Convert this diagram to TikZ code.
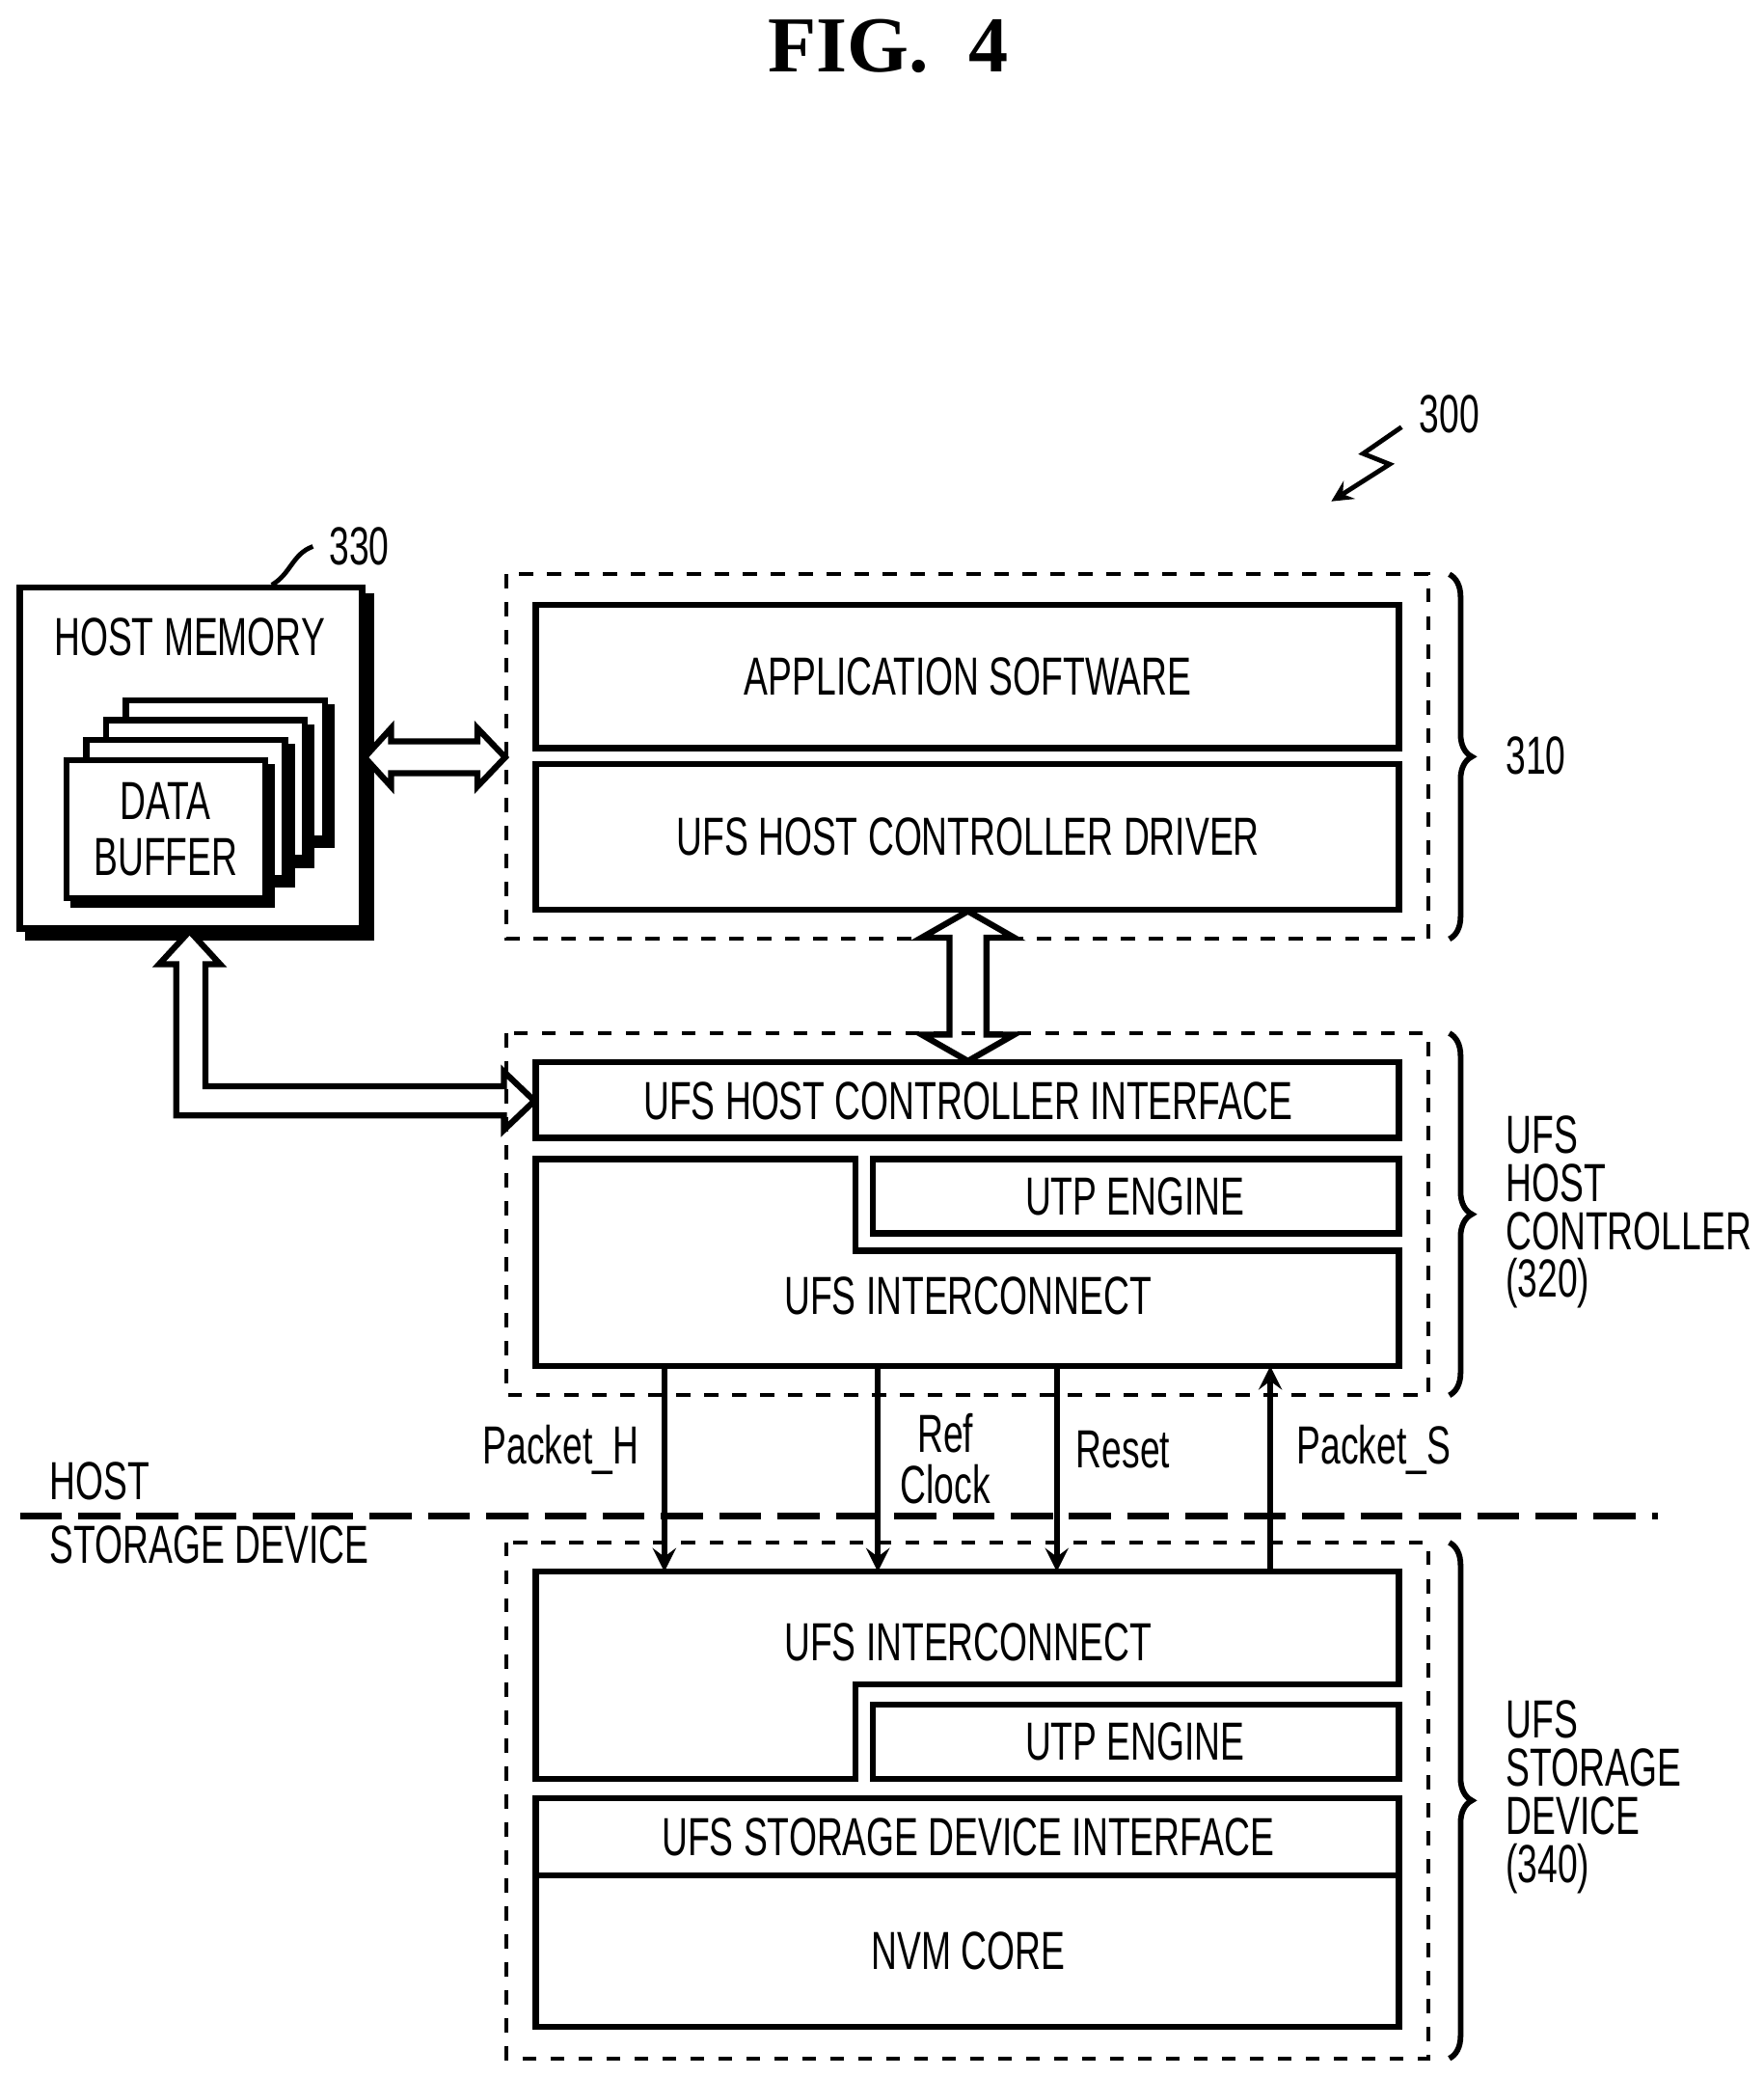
\documentclass[tikz,border=0pt]{standalone}
\usepackage{fontspec}
\setmainfont[FakeStretch=0.67]{Liberation Sans}
\newfontfamily\figfont{Liberation Serif}
\usetikzlibrary{positioning, decorations.pathreplacing}
\tikzset{
  blk/.style={draw, line width=1.3pt, inner sep=0pt},
  grp/.style={draw, dashed, line width=0.8pt},
  lbl/.style={font=\fontsize{11.5}{14}\selectfont, align=center},
  side/.style={font=\fontsize{11.5}{10.3}\selectfont, align=left, anchor=west, inner sep=0pt},
  brc/.style={decorate, decoration={brace, amplitude=0.17cm}, line width=1.2pt},
  hollow/.style={draw, line width=1.3pt, fill=white, line join=miter},
  sig/.style={-stealth, line width=1.2pt}
}
\begin{document}
\begin{tikzpicture}[x=0.01cm, y=-0.01cm]
\useasboundingbox (0,0) rectangle (1330,1566);
% title
\node[font=\figfont\bfseries\fontsize{17}{20}\selectfont] (fig) at (670,35) {FIG.\ \ 4};
% reference 300
\node[lbl, anchor=west] (r300) at (1058,312) {300};
\coordinate (s0) at (1057,322);
\coordinate (s1) at (1004,378);
\draw[-stealth, line width=1pt] (s0) -- (1028,342) -- (1048,350) -- (s1);

% host memory
\draw[line width=3pt] (19,704) -- (277,704) -- (277,447);
\node[blk, fill=white, minimum width=2.58cm, minimum height=2.57cm] (hm) at (144,571.5) {};
\node[lbl] (hmt) at (143,480) {HOST MEMORY};
\node[lbl, anchor=west] (r330) at (236,412) {330};
\draw[line width=1pt] (205,441) to[out=30, in=200] (r330.west);
\foreach \i in {3,2,1,0} {
  \draw[line width=2.5pt] (50+15*\i+3,677-15*\i+3) -- (200+15*\i+3,677-15*\i+3) -- (200+15*\i+3,573-15*\i+3);
  \draw[blk, fill=white] (50+15*\i,573-15*\i) rectangle (200+15*\i,677-15*\i);
}
\node[lbl] (buf) at (125,625) {DATA\\[-2pt]BUFFER};

% 310
\draw[grp] (382,433) rectangle (1077,708);
\draw[blk] (404,456) rectangle (1055,564);
\node[lbl] (app) at (730,510) {APPLICATION SOFTWARE};
\draw[blk] (404,576) rectangle (1055,686);
\node[lbl] (drv) at (730,631) {UFS HOST CONTROLLER DRIVER};
\draw[brc] (1093,433) -- (1093,708);
\node[side] (l310) at (1135,570) {310};

% hollow arrows
\draw[hollow] (275,571) -- (295,549) -- (295,559) -- (360,559) -- (360,549) -- (381,571)
  -- (360,593) -- (360,583) -- (295,583) -- (295,593) -- cycle;
\draw[hollow] (730,687) -- (765,707) -- (744,707) -- (744,780) -- (765,780) -- (730,800)
  -- (695,780) -- (716,780) -- (716,707) -- (695,707) -- cycle;
\draw[hollow] (143,702) -- (166,727) -- (155,727) -- (155,819) -- (380,819) -- (380,808)
  -- (403,830) -- (380,852) -- (380,841) -- (133,841) -- (133,727) -- (120,727) -- cycle;

% 320
\draw[grp] (382,779) rectangle (1077,1052);
\draw[blk] (404,801) rectangle (1055,858);
\node[lbl] (hci) at (730,830) {UFS HOST CONTROLLER INTERFACE};
\draw[blk] (658,874) rectangle (1055,930);
\node[lbl] (utph) at (856,902) {UTP ENGINE};
\draw[blk] (404,874) -- (645,874) -- (645,943) -- (1055,943) -- (1055,1030) -- (404,1030) -- cycle;
\node[lbl] (uich) at (730,977) {UFS INTERCONNECT};
\draw[brc] (1093,779) -- (1093,1052);
\node[side] (l320) at (1135,914) {UFS\\HOST\\CONTROLLER\\(320)};

% boundary
\draw[dash pattern=on 9pt off 3.5pt, line width=1.3pt] (15,1143) -- (1250,1143);
\node[lbl, anchor=west, inner sep=0pt] (host) at (37,1117) {HOST};
\node[lbl, anchor=west, inner sep=0pt] (stor) at (37,1165) {STORAGE DEVICE};

% 340
\draw[grp] (382,1163) rectangle (1077,1552);
\draw[blk] (404,1185) -- (1055,1185) -- (1055,1270) -- (645,1270) -- (645,1341) -- (404,1341) -- cycle;
\node[lbl] (uics) at (730,1238) {UFS INTERCONNECT};
\draw[blk] (658,1285) rectangle (1055,1341);
\node[lbl] (utps) at (856,1313) {UTP ENGINE};
\draw[blk] (404,1356) rectangle (1055,1414);
\node[lbl] (sdi) at (730,1385) {UFS STORAGE DEVICE INTERFACE};
\draw[blk] (404,1414) rectangle (1055,1528);
\node[lbl] (nvm) at (730,1471) {NVM CORE};
\draw[brc] (1093,1163) -- (1093,1552);
\node[side] (l340) at (1135,1355) {UFS\\STORAGE\\DEVICE\\(340)};

% signals
\foreach \x/\n in {501/ph, 662/rc, 797/rs, 958/ps} {
  \coordinate (\n t) at (\x,1030);
  \coordinate (\n b) at (\x,1185);
}
\draw[sig] (pht) -- (phb);
\draw[sig] (rct) -- (rcb);
\draw[sig] (rst) -- (rsb);
\draw[sig] (psb) -- (pst);
\node[lbl] (lph) at (423,1093) {Packet\_H};
\node[lbl] (lrc) at (713,1100) {Ref\\[-3pt]Clock};
\node[lbl] (lrs) at (847,1093) {Reset};
\node[lbl] (lps) at (1036,1093) {Packet\_S};
\end{tikzpicture}
\end{document}
